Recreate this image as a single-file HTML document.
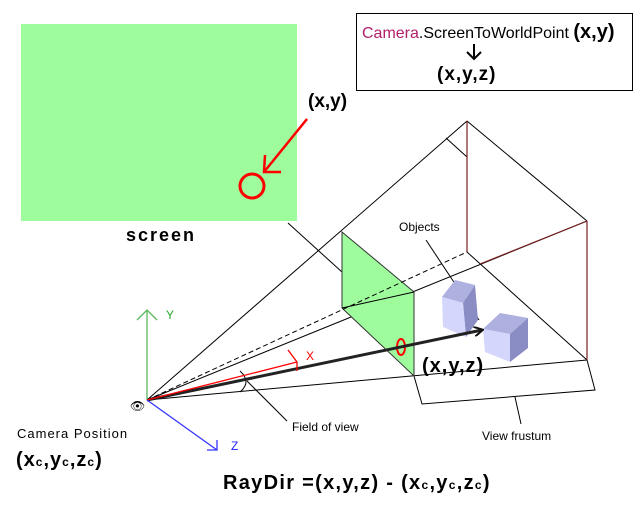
<!DOCTYPE html>
<html><head><meta charset="utf-8"><style>
html,body{margin:0;padding:0;background:#fff;}
svg{display:block;font-family:"Liberation Sans",sans-serif;}
</style></head><body>
<svg width="644" height="506" viewBox="0 0 644 506">
<defs>
<marker id="ah" markerWidth="10" markerHeight="10" refX="8" refY="5" orient="auto" markerUnits="userSpaceOnUse"><path d="M0,0 L9,5 L0,10" fill="none" stroke="#111" stroke-width="2"/></marker>
</defs>
<rect x="21" y="24" width="276" height="197" fill="#9ffc9c"/>
<circle cx="252" cy="186" r="12" fill="none" stroke="#f00" stroke-width="3"/>
<g stroke="#f00" stroke-width="2.5" fill="none">
<line x1="307" y1="119" x2="264" y2="172"/><polyline points="265,155 264,172 281,172"/></g>
<text x="126" y="241" font-size="18" font-weight="bold" letter-spacing="2">screen</text>
<text x="308" y="107" font-size="19" font-weight="bold">(x,y)</text>
<rect x="356.5" y="13.5" width="276" height="77" fill="#fff" stroke="#000"/>
<text x="362" y="38" font-size="16"><tspan fill="#b0206a">Camera</tspan>.ScreenToWorldPoint <tspan font-size="20" font-weight="bold">(x,y)</tspan></text>
<g stroke="#000" stroke-width="2" fill="none"><line x1="474" y1="44" x2="474" y2="58"/><polyline points="467,52 474,59 481,52"/></g>
<text x="437" y="80" font-size="19" font-weight="bold" letter-spacing="1">(x,y,z)</text>
<g stroke="#000" stroke-width="1" fill="none">
<line x1="147" y1="400" x2="467" y2="121"/>
<line x1="467" y1="121" x2="587" y2="221"/>
<line x1="147" y1="400" x2="587" y2="221"/>
<line x1="147" y1="400" x2="587" y2="360"/>
<line x1="467" y1="252" x2="587" y2="360"/>
<line x1="446" y1="138" x2="467" y2="157"/>
<line x1="288" y1="223" x2="342" y2="272"/>
<polyline points="414,376 422,404 595,390 587,360"/>
<line x1="515" y1="397" x2="521" y2="424"/>
<path d="M240,371 Q252,382 240,392"/>
<line x1="247" y1="381" x2="287" y2="421"/>
<line x1="426" y1="240" x2="479" y2="320"/>
</g>
<g stroke="#7a2020" stroke-width="1.2">
<line x1="467" y1="121" x2="467" y2="252"/>
<line x1="587" y1="221" x2="587" y2="360"/>
<line x1="480" y1="264" x2="587" y2="221"/>
</g>
<polygon points="342,232 414,292 414,376 342,308" fill="#9ffc9c" stroke="#333"/>
<line x1="342" y1="308" x2="414" y2="292" stroke="#000"/>
<line x1="147" y1="400" x2="467" y2="252" stroke="#000" stroke-dasharray="5,3"/>
<ellipse cx="401" cy="347" rx="4" ry="8" fill="none" stroke="#f00" stroke-width="2"/>
<g>
<polygon points="442,297 455,280 475,285 463,303" fill="#aeb0e0"/>
<polygon points="463,303 475,285 478,320 466,337" fill="#8a8cc4"/>
<polygon points="442,297 463,303 466,337 443,327" fill="#d4d6fc"/>
</g>
<g>
<polygon points="483,329 500,313 528,318 510,334" fill="#aeb0e0"/>
<polygon points="510,334 528,318 528,348 510,362" fill="#8a8cc4"/>
<polygon points="483,329 510,334 510,362 485,352" fill="#d4d6fc"/>
</g>
<line x1="147" y1="400" x2="482" y2="330" stroke="#222" stroke-width="3" marker-end="url(#ah)"/>
<text x="422" y="372" font-size="20" font-weight="bold" letter-spacing="1">(x,y,z)</text>
<g fill="none" stroke-width="1.3">
<line x1="147" y1="400" x2="147" y2="310" stroke="#5cb85c"/><polyline points="137,320 147,310 157,320" stroke="#5cb85c"/>
<line x1="147" y1="400" x2="297" y2="362" stroke="#f00"/><polyline points="288,350 297,362 297,371" stroke="#f00"/>
<line x1="147" y1="400" x2="217" y2="450" stroke="#33f"/><polyline points="217,440 217,450 207,450" stroke="#33f"/>
</g>
<text x="166" y="319" font-size="12" fill="#2a2">Y</text>
<text x="306" y="360" font-size="12" fill="#f00">X</text>
<text x="231" y="450" font-size="12" fill="#22f">Z</text>
<text x="130" y="410" font-size="12">👁</text>
<text x="17" y="438" font-size="13" letter-spacing="1">Camera Position</text>
<text x="16" y="466" font-size="20" font-weight="bold" letter-spacing="1">(x<tspan font-size="12">c</tspan>,y<tspan font-size="12">c</tspan>,z<tspan font-size="12">c</tspan>)</text>
<text x="292" y="431" font-size="12">Field of view</text>
<text x="482" y="440" font-size="12">View frustum</text>
<text x="399" y="231" font-size="12">Objects</text>
<text x="223" y="489" font-size="20" font-weight="bold" letter-spacing="1.3">RayDir =(x,y,z) - (x<tspan font-size="12">c</tspan>,y<tspan font-size="12">c</tspan>,z<tspan font-size="12">c</tspan>)</text>
</svg>
</body></html>
